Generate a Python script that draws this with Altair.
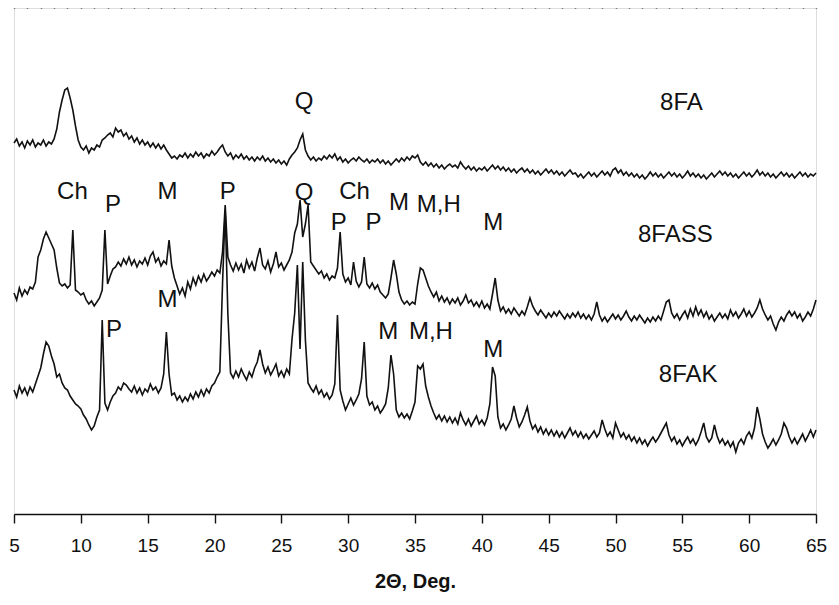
import altair as alt
import pandas as pd

# 2-theta sampling grid (deg), step 0.2
two_theta = [round(5 + 0.2 * i, 1) for i in range(301)]

# Intensities (arbitrary units, stacked patterns)
fa = [
    371, 375, 368, 372, 366,  373, 369, 374, 367, 371,  369, 374, 368, 372, 370,
    375, 385, 402, 414, 424,  426, 416, 404, 388, 374,  367, 364, 368, 361, 366,
    364, 369, 367, 374, 376,  379, 381, 377, 386, 382,  384, 378, 381, 375, 378,
    372, 376, 370, 374, 369,  372, 367, 371, 366, 370,  365, 369, 364, 360, 356,
    358, 355, 359, 357, 361,  356, 360, 357, 362, 358,  361, 356, 360, 358, 363,
    359, 362, 366, 369, 362,  358, 361, 355, 359, 356,  360, 355, 358, 354, 357,
    353, 357, 354, 358, 353,  356, 352, 355, 351, 354,  350, 353, 349, 355, 359,
    362, 366, 374, 380, 364,  358, 354, 357, 353, 356,  354, 358, 355, 359, 356,
    360, 354, 357, 352, 355,  351, 354, 356, 353, 357,  354, 352, 355, 351, 354,
    352, 355, 351, 354, 350,  353, 349, 352, 355, 352,  356, 353, 357, 354, 358,
    356, 359, 352, 349, 352,  348, 351, 347, 350, 346,  349, 345, 348, 350, 347,
    349, 346, 352, 348, 345,  348, 344, 347, 343, 346,  344, 347, 343, 346, 349,
    345, 348, 344, 347, 343,  346, 342, 345, 341, 344,  346, 342, 345, 341, 344,
    340, 343, 339, 342, 345,  341, 344, 340, 343, 339,  342, 338, 341, 344, 340,
    341, 337, 340, 336, 339,  342, 338, 341, 337, 340,  343, 339, 342, 338, 344,
    346, 341, 344, 339, 342,  338, 341, 337, 340, 336,  339, 335, 338, 342, 338,
    341, 337, 340, 336, 339,  342, 338, 341, 337, 340,  336, 339, 343, 338, 341,
    337, 340, 336, 339, 335,  338, 341, 337, 340, 343,  339, 342, 338, 341, 337,
    340, 336, 339, 342, 338,  341, 337, 340, 344, 339,  342, 338, 341, 337, 340,
    336, 339, 342, 338, 341,  337, 340, 336, 339, 342,  338, 341, 337, 340, 338,
    341,
]
fass = [
    221, 214, 226, 218, 224,  220, 227, 225, 232, 257,  264, 275, 282, 276, 270,
    264, 246, 231, 228, 230,  226, 229, 284, 224, 222,  219, 221, 214, 210, 213,
    208, 212, 216, 224, 284,  230, 238, 245, 247, 252,  248, 255, 250, 257, 249,
    254, 247, 253, 250, 256,  249, 258, 262, 252, 256,  248, 253, 250, 274, 248,
    236, 228, 220, 226, 218,  232, 225, 236, 229, 238,  232, 240, 233, 237, 242,
    238, 244, 241, 262, 309,  257, 249, 243, 251, 244,  250, 241, 254, 246, 252,
    243, 256, 266, 249, 245,  253, 242, 250, 262, 247,  251, 244, 249, 254, 262,
    281, 290, 314, 277, 290,  309, 252, 248, 244, 240,  243, 236, 240, 234, 238,
    236, 246, 282, 240, 232,  236, 229, 252, 233, 227,  232, 257, 230, 226, 231,
    225, 229, 222, 219, 216,  220, 236, 254, 240, 222,  214, 210, 213, 209, 212,
    210, 230, 246, 244, 236,  228, 222, 217, 222, 213,  218, 212, 216, 210, 215,
    211, 216, 209, 213, 219,  211, 214, 208, 212, 207,  213, 206, 210, 205, 220,
    236, 214, 203, 207, 201,  205, 200, 206, 202, 198,  203, 199, 207, 216, 208,
    203, 199, 204, 200, 196,  201, 197, 202, 198, 203,  199, 195, 200, 196, 201,
    197, 202, 196, 200, 195,  199, 194, 200, 212, 199,  193, 197, 192, 196, 200,
    195, 199, 194, 198, 203,  197, 193, 198, 194, 199,  195, 191, 196, 192, 197,
    193, 198, 194, 203, 212,  214, 201, 196, 200, 194,  199, 203, 196, 205, 198,
    207, 199, 204, 197, 202,  195, 199, 193, 197, 201,  196, 200, 195, 204, 198,
    202, 196, 200, 205, 198,  203, 197, 201, 206, 214,  205, 199, 194, 198, 190,
    184, 192, 197, 193, 199,  203, 198, 202, 196, 200,  193, 197, 202, 198, 205,
    214,
]
fak = [
    124, 117, 128, 121, 126,  119, 127, 122, 130, 138,  146, 160, 172, 168, 158,
    150, 137, 140, 131, 126,  124, 118, 114, 110, 108,  105, 99, 95, 89, 84,
    88, 97, 104, 194, 111,  104, 112, 118, 121, 127,  124, 131, 129, 125, 122,
    128, 121, 126, 119, 125,  122, 130, 124, 127, 121,  126, 140, 182, 140, 119,
    121, 114, 118, 112, 117,  113, 120, 115, 122, 117,  124, 118, 125, 121, 128,
    131, 137, 142, 230, 304,  200, 141, 136, 143, 137,  145, 139, 134, 142, 137,
    146, 152, 164, 150, 141,  147, 139, 144, 150, 138,  143, 137, 145, 140, 175,
    201, 249, 165, 252, 174,  131, 126, 122, 128, 120,  124, 117, 121, 115, 119,
    130, 199, 124, 113, 104,  110, 116, 109, 114, 120,  135, 172, 118, 109, 112,
    104, 108, 101, 105, 110,  126, 159, 140, 104, 97,  101, 96, 100, 95, 103,
    112, 148, 145, 150, 128,  117, 108, 101, 95, 99,  93, 98, 92, 97, 91,
    96, 90, 101, 94, 89,  95, 88, 93, 98, 90,  94, 89, 96, 110, 147,
    138, 97, 86, 90, 84,  89, 95, 108, 96, 87,  92, 99, 107, 93, 85,
    89, 82, 87, 80, 85,  79, 84, 78, 83, 77,  82, 76, 81, 86, 79,
    83, 77, 82, 76, 80,  75, 79, 83, 77, 81,  94, 85, 78, 82, 76,
    91, 84, 77, 81, 75,  79, 73, 77, 71, 76,  70, 74, 68, 73, 77,
    72, 76, 81, 86, 91,  79, 73, 77, 70, 74,  68, 73, 77, 71, 75,
    69, 74, 82, 91, 77,  72, 76, 89, 78, 71,  75, 69, 73, 67, 72,
    62, 71, 75, 70, 78,  82, 76, 86, 107, 95,  80, 72, 66, 70, 75,
    69, 74, 80, 91, 86,  77, 71, 76, 70, 75,  80, 73, 78, 84, 77,
    84,
]
samples = ["8FA", "8FASS", "8FAK"]

# Phase labels and sample names
label_text = ["Q", "8FA",
              "Ch", "P", "M", "P", "Q", "Ch", "M", "M,H", "P", "P", "M", "8FASS",
              "M", "P", "M", "M,H", "M", "8FAK"]
label_x = [26.7, 54.93,
           9.37, 12.41, 16.48, 21.0, 26.7, 30.48, 33.81, 36.78, 29.3, 31.89, 40.85, 54.48,
           16.48, 12.48, 33.0, 36.19, 40.85, 55.44]
label_y = [412, 411,
           322, 309, 322, 322, 321, 322, 311, 309, 291, 291, 291, 279,
           214, 184, 182, 182, 164, 139]

major_ticks = [5, 10, 15, 20, 25, 30, 35, 40, 45, 50, 55, 60, 65]
minor_ticks = list(range(5, 66))

assert len(fa) == len(fass) == len(fak) == len(two_theta)

rows = []
for name, series in zip(samples, [fa, fass, fak]):
    for t, v in zip(two_theta, series):
        rows.append({"two_theta": t, "intensity": v, "sample": name})
df = pd.DataFrame(rows)
labels_df = pd.DataFrame({"label": label_text, "two_theta": label_x, "intensity": label_y})

FONT = "Liberation Sans"
INK = "#111111"
xs = alt.Scale(domain=[5, 65], nice=False, zero=False)
ys = alt.Scale(domain=[0, 506], nice=False, zero=False)

lines = alt.Chart(df).mark_line(color=INK, strokeWidth=1.6, strokeJoin="miter").encode(
    x=alt.X("two_theta:Q", scale=xs,
            axis=alt.Axis(values=major_ticks, tickSize=9, tickWidth=1.4, tickColor=INK,
                          domainColor=INK, domainWidth=1.6, grid=False,
                          labelFont=FONT, labelFontSize=19, labelColor=INK,
                          labelPadding=13, labelFlush=False, labelOverlap=False,
                          title="2\u0398, Deg.", titleFont=FONT, titleFontSize=20,
                          titleFontWeight="bold", titleColor=INK, titlePadding=16)),
    y=alt.Y("intensity:Q", scale=ys, axis=None),
    detail="sample:N",
)

texts = alt.Chart(labels_df).mark_text(font=FONT, fontSize=24, color=INK,
                                       baseline="middle", align="center").encode(
    x=alt.X("two_theta:Q", scale=xs,
            axis=alt.Axis(values=minor_ticks, tickSize=7, tickWidth=1.4, tickColor=INK,
                          labels=False, domain=False, grid=False, title=None)),
    y=alt.Y("intensity:Q", scale=ys, axis=None),
    text="label:N",
)

chart = alt.layer(lines, texts).resolve_axis(x="independent").properties(
    width=802, height=506,
    autosize=alt.AutoSizeParams(type="none"),
    padding={"left": 6, "top": 0, "right": 13, "bottom": 80},
).configure_view(stroke=INK, strokeWidth=1.6).configure(background="white")

chart.save("out.html", embed_options={"renderer": "svg", "actions": False})
